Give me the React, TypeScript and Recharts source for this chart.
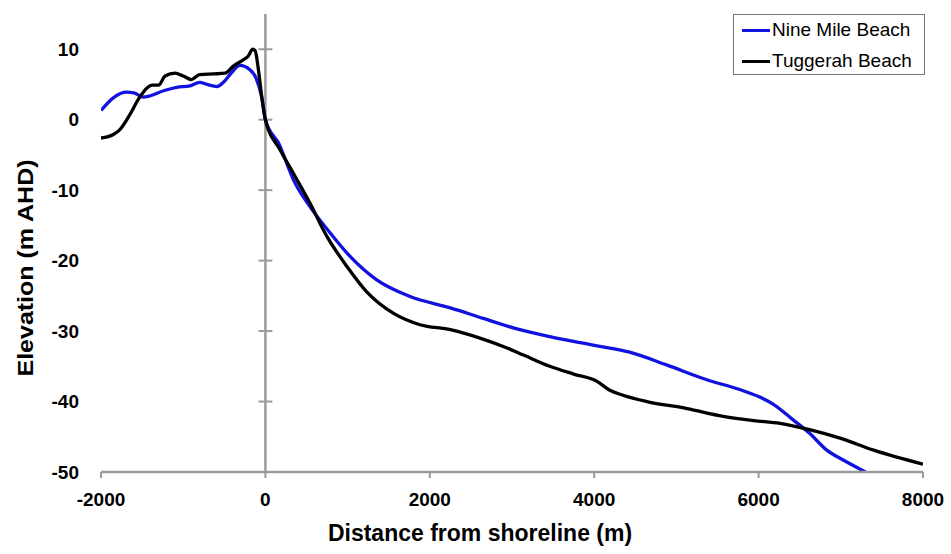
import {
  Line,
  LineChart,
  ReferenceLine,
  XAxis,
  YAxis,
} from "recharts";

const nineMileX = [
  -2000, -1850, -1690, -1600, -1490, -1400, -1240, -1080, -920, -800, -710, -590, -510, -410, -310, -190, -110, -45,
  0, 180, 220, 340, 540, 790, 1030, 1350, 1760, 2250, 2650, 3060, 3460, 3990, 4430, 4880, 5370, 5770, 6000, 6180,
  6420, 6620, 6830, 7030, 7300,
];
const nineMileY = [
  1.3, 3.1, 3.9, 3.8, 3.2, 3.4, 4.1, 4.6, 4.8, 5.3, 5.0, 4.7, 5.3, 6.7, 7.7, 7.1, 5.8, 3.2,
  0, -3.8, -5.0, -8.5, -12.3, -16.1, -19.4, -22.7, -25.1, -26.7, -28.2, -29.7, -30.8, -32.0, -33.0, -34.8, -36.9,
  -38.3, -39.3, -40.4, -42.6, -44.5, -46.9, -48.3, -50,
];

const tuggerahX = [
  -2000, -1850, -1770, -1650, -1550, -1440, -1380, -1300, -1220, -1100, -1000, -900, -800, -630, -490, -390, -270,
  -210, -155, -125, -85, -45, 0, 180, 340, 540, 750, 990, 1230, 1560, 1880, 2250, 2610, 2940, 3140, 3460, 3750, 4030,
  4190, 4350, 4640, 5130, 5570, 5940, 6260, 6620, 6990, 7400, 8000,
];
const tuggerahY = [
  -2.6, -2.1, -1.4, 0.7, 2.8, 4.5, 4.9, 4.9, 6.2, 6.6, 6.2, 5.7, 6.4, 6.5, 6.6, 7.6, 8.5,
  9.0, 10.0, 9.8, 7.1, 3.3, 0, -4.3, -7.6, -11.8, -16.6, -20.8, -24.4, -27.5, -29.1, -29.8, -31.0, -32.4, -33.4,
  -35.0, -36.1, -37.1, -38.4, -39.1, -40.0, -41.0, -42.1, -42.7, -43.1, -44.0, -45.2, -46.9, -48.9,
];

const xTicks = [-2000, 0, 2000, 4000, 6000, 8000];
const yTicks = [-50, -40, -30, -20, -10, 0, 10];
const seriesNames = ["Nine Mile Beach", "Tuggerah Beach"];

const nineMile = nineMileX.map((x, i) => ({ x, y: nineMileY[i] }));
const tuggerah = tuggerahX.map((x, i) => ({ x, y: tuggerahY[i] }));

const FONT = "'Liberation Sans', Arial, sans-serif";
const AXIS_GREY = "#9a9a9a";
const BLUE = "#1212e0";
const colors = [BLUE, "#000"];

const LegendBox = () => (
  <div
    style={{
      position: "absolute",
      left: 733,
      top: 14,
      width: 190,
      height: 59,
      border: "1px solid #777",
      background: "#fff",
      fontFamily: FONT,
      fontSize: 19,
      color: "#000",
    }}
  >
    {seriesNames.map((name, i) => (
      <div key={name} style={{ display: "flex", alignItems: "center", height: 30, marginTop: i === 0 ? 0 : 1 }}>
        <div style={{ width: 28, height: 3, background: colors[i], marginLeft: 8, marginRight: 2 }} />
        <span style={{ whiteSpace: "nowrap" }}>{name}</span>
      </div>
    ))}
  </div>
);

export default function App() {
  return (
    <div style={{ position: "absolute", left: 0, top: 0, width: 951, height: 554, background: "#fff" }}>
      <LineChart width={951} height={554} margin={{ top: 14, right: 28, left: 0, bottom: 52 }}>
        <XAxis
          type="number"
          dataKey="x"
          domain={[-2000, 8000]}
          ticks={xTicks}
          height={30}
          allowDataOverflow
          axisLine={{ stroke: AXIS_GREY, strokeWidth: 2.5 }}
          tickLine={{ stroke: AXIS_GREY, strokeWidth: 2 }}
          tickSize={6}
          tickMargin={15}
          tick={{ fill: "#000", fontSize: 19, fontWeight: 700, fontFamily: FONT }}
          label={{
            content: () => (
              <text x={480} y={541} textAnchor="middle" fontFamily={FONT} fontSize={23} fontWeight={700} fill="#000">
                Distance from shoreline (m)
              </text>
            ),
          }}
        />
        <YAxis
          type="number"
          dataKey="y"
          domain={[-50, 15]}
          ticks={yTicks}
          width={101}
          allowDataOverflow
          axisLine={false}
          tickLine={false}
          tickSize={0}
          tickMargin={22}
          tick={{ fill: "#000", fontSize: 19, fontWeight: 700, fontFamily: FONT }}
          label={{
            content: () => (
              <text
                x={33}
                y={268}
                transform="rotate(-90 33 268)"
                textAnchor="middle"
                fontFamily={FONT}
                fontSize={22}
                fontWeight={700}
                fill="#000"
                textLength={217}
                lengthAdjust="spacingAndGlyphs"
              >
                Elevation (m AHD)
              </text>
            ),
          }}
        />
        <ReferenceLine x={0} stroke={AXIS_GREY} strokeWidth={2.5} />
        {yTicks
          .filter((t) => t > -50)
          .map((t) => (
            <ReferenceLine
              key={t}
              segment={[
                { x: -85, y: t },
                { x: 85, y: t },
              ]}
              stroke={AXIS_GREY}
              strokeWidth={2}
            />
          ))}
        <Line
          data={nineMile}
          dataKey="y"
          name={seriesNames[0]}
          type="monotone"
          stroke={BLUE}
          strokeWidth={3.3}
          dot={false}
          isAnimationActive={false}
        />
        <Line
          data={tuggerah}
          dataKey="y"
          name={seriesNames[1]}
          type="monotone"
          stroke="#000"
          strokeWidth={3.3}
          dot={false}
          isAnimationActive={false}
        />
      </LineChart>
      <LegendBox />
    </div>
  );
}
